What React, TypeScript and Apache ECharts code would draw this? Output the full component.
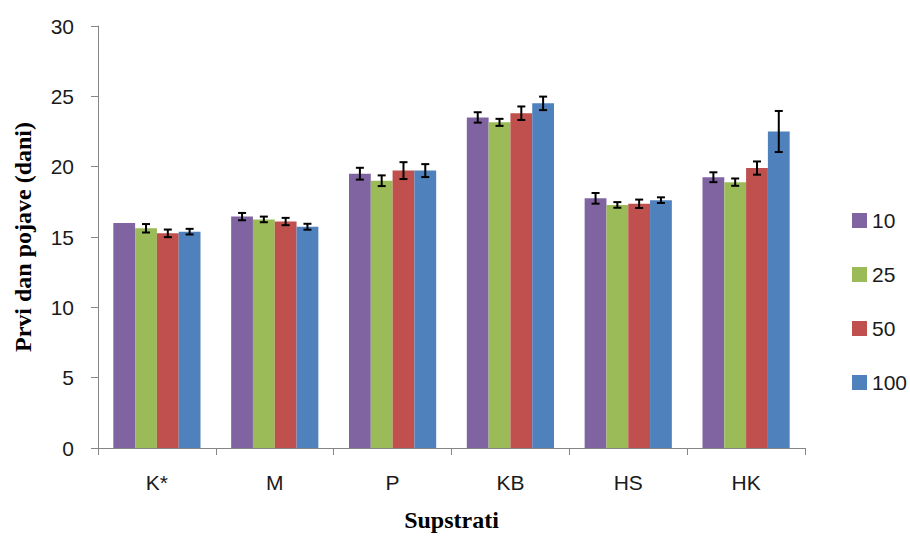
import React, { useEffect, useRef } from "react";
import * as echarts from "echarts";

const categories = ["K*", "M", "P", "KB", "HS", "HK"];
const seriesNames = ["10", "25", "50", "100"];
const colors = ["#8064A2", "#9BBB59", "#C0504D", "#4F81BD"];

const values10 = [16.0, 16.45, 19.5, 23.5, 17.75, 19.25];
const values25 = [15.62, 16.25, 19.0, 23.15, 17.28, 18.9];
const values50 = [15.26, 16.1, 19.72, 23.8, 17.36, 19.9];
const values100 = [15.38, 15.73, 19.72, 24.5, 17.62, 22.5];

const err10 = [0, 0.26, 0.42, 0.37, 0.38, 0.35];
const err25 = [0.3, 0.2, 0.38, 0.25, 0.2, 0.26];
const err50 = [0.27, 0.26, 0.6, 0.48, 0.3, 0.47];
const err100 = [0.2, 0.21, 0.46, 0.48, 0.2, 1.46];

const allValues = [values10, values25, values50, values100];
const allErrs = [err10, err25, err50, err100];

const GAP = 0.26;

export default function App() {
  const ref = useRef<HTMLDivElement>(null);
  useEffect(() => {
    if (!ref.current) return;
    const chart = echarts.init(ref.current, undefined, { renderer: "svg" });

    const barSeries = seriesNames.map((name, i) => ({
      name,
      type: "bar",
      data: allValues[i],
      itemStyle: { color: colors[i] },
      barGap: "0%",
      barCategoryGap: GAP * 100 + "%",
      z: 2,
    }));

    const errSeries = seriesNames.map((name, i) => ({
      name: name + "-err",
      type: "custom",
      data: allValues[i].map((v, j) => [j, v, allErrs[i][j]]),
      z: 5,
      silent: true,
      renderItem: (params: any, api: any) => {
        const cat = api.value(0);
        const v = api.value(1);
        const e = api.value(2);
        if (!e) return null;
        const band = api.size([1, 0])[0];
        const bw = (band * (1 - GAP)) / 4;
        const center = api.coord([cat, v]);
        const x = center[0] + (i - 1.5) * bw;
        const hi = api.coord([cat, v + e])[1];
        const lo = api.coord([cat, v - e])[1];
        const cap = 4;
        const style = { stroke: "#000", lineWidth: 2 };
        return {
          type: "group",
          children: [
            { type: "line", shape: { x1: x, y1: hi, x2: x, y2: lo }, style },
            { type: "line", shape: { x1: x - cap, y1: hi, x2: x + cap, y2: hi }, style },
            { type: "line", shape: { x1: x - cap, y1: lo, x2: x + cap, y2: lo }, style },
          ],
        };
      },
    }));

    chart.setOption({
      animation: false,
      backgroundColor: "#fff",
      grid: { left: 98, right: 105, top: 26, bottom: 87 },
      legend: {
        data: seriesNames,
        orient: "vertical",
        left: 847,
        top: 205,
        itemWidth: 15,
        itemHeight: 15,
        itemGap: 33,
        icon: "rect",
        textStyle: { fontFamily: "Liberation Sans", fontSize: 21, lineHeight: 15, color: "#1a1a1a" },
      },
      xAxis: {
        type: "category",
        data: categories,
        name: "Supstrati",
        nameLocation: "middle",
        nameGap: 60,
        nameTextStyle: {
          fontFamily: "Liberation Serif",
          fontWeight: "bold",
          fontSize: 24,
          color: "#000",
        },
        axisLine: { lineStyle: { color: "#868686", width: 1 } },
        axisTick: { show: true, length: 7, lineStyle: { color: "#868686" } },
        axisLabel: {
          margin: 24,
          fontFamily: "Liberation Sans",
          fontSize: 21,
          color: "#1a1a1a",
        },
      },
      yAxis: {
        type: "value",
        min: 0,
        max: 30,
        interval: 5,
        name: "Prvi dan pojave (dani)",
        nameLocation: "middle",
        nameGap: 63,
        nameTextStyle: {
          fontFamily: "Liberation Serif",
          fontWeight: "bold",
          fontSize: 24,
          color: "#000",
        },
        axisLine: { show: true, lineStyle: { color: "#868686", width: 1 } },
        axisTick: { show: true, length: 7, lineStyle: { color: "#868686" } },
        splitLine: { show: false },
        axisLabel: {
          margin: 24,
          fontFamily: "Liberation Sans",
          fontSize: 21,
          color: "#1a1a1a",
        },
      },
      series: [...barSeries, ...errSeries],
    });
    return () => chart.dispose();
  }, []);
  return (
    <div
      ref={ref}
      style={{ position: "fixed", left: 0, top: 0, width: 910, height: 537 }}
    />
  );
}
